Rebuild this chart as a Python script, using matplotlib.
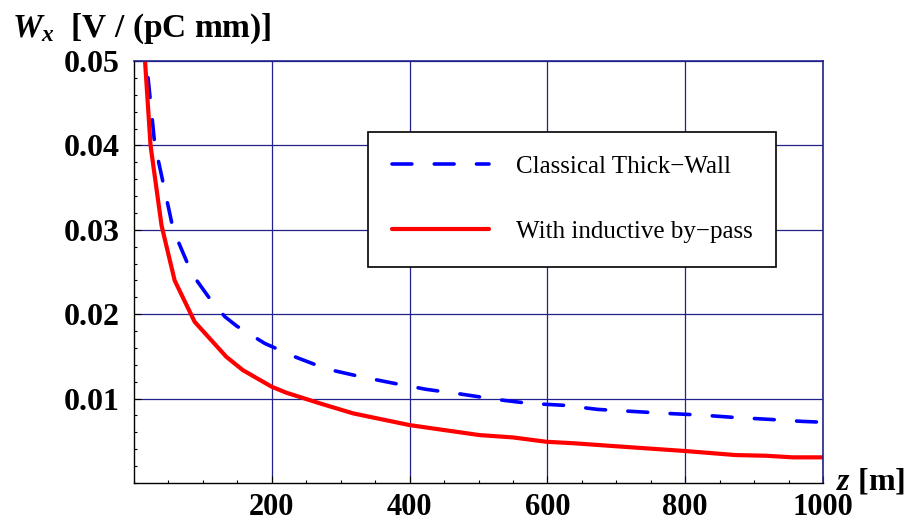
import matplotlib
matplotlib.use("Agg")
import matplotlib.pyplot as plt
from matplotlib.ticker import FixedLocator, MultipleLocator

plt.rcParams['font.family'] = ['Liberation Serif', 'DejaVu Serif']
plt.rcParams['mathtext.fontset'] = 'custom'
plt.rcParams['mathtext.rm'] = 'Liberation Serif:bold'
plt.rcParams['mathtext.it'] = 'Liberation Serif:italic:bold'

# data
z_classic = [14, 18, 30, 57, 84, 113, 132, 149, 190, 236, 280, 330, 378, 424,
             475, 526, 574, 625, 673, 724, 772, 823, 871, 922, 970, 1000]
w_classic = [0.053, 0.050, 0.0402, 0.0300, 0.0248, 0.0215, 0.0197, 0.0186,
             0.01653, 0.01487, 0.0135, 0.01258, 0.0118, 0.0111, 0.01053,
             0.0099, 0.00943, 0.0092, 0.00872, 0.00848, 0.00825, 0.00805,
             0.00777, 0.00754, 0.0073, 0.0072]

z_bypass = [13, 16, 24, 40, 59, 88, 134, 158, 200, 221, 270, 318, 400, 501,
            550, 598, 640, 700, 800, 873, 917, 956, 1000]
w_bypass = [0.054, 0.050, 0.040, 0.0305, 0.0240, 0.0191, 0.01495, 0.01337,
            0.0114, 0.0107, 0.00943, 0.00825, 0.00686, 0.00568, 0.0054,
            0.00489, 0.0047, 0.00435, 0.00379, 0.00331, 0.00323, 0.00304,
            0.00304]

labels = ['Classical Thick\u2212Wall', 'With inductive by\u2212pass']

x_ticks = [200, 400, 600, 800, 1000]
x_ticklabels = ['200', '400', '600', '800', '1000']
y_ticks = [0.01, 0.02, 0.03, 0.04, 0.05]
y_ticklabels = ['0.01', '0.02', '0.03', '0.04', '0.05']

navy = '#22228c'

fig = plt.figure(figsize=(9.11, 5.27), dpi=100)
ax = fig.add_axes([134 / 911, 1 - 483 / 527, (823 - 134) / 911, (483 - 61) / 527])

ax.plot(z_classic, w_classic, color='#0000ff', lw=2.6, dashes=(5.5, 6.2),
        dash_capstyle='round', label=labels[0])
ax.plot(z_bypass, w_bypass, color='#ff0000', lw=3.0, solid_capstyle='round',
        label=labels[1])

ax.set_xlim(0, 1000)
ax.set_ylim(0, 0.05)

ax.xaxis.set_major_locator(FixedLocator(x_ticks))
ax.set_xticklabels(x_ticklabels)
ax.yaxis.set_major_locator(FixedLocator(y_ticks))
ax.set_yticklabels(y_ticklabels)
ax.xaxis.set_minor_locator(MultipleLocator(50))
ax.yaxis.set_minor_locator(MultipleLocator(0.002))

ax.tick_params(which='both', direction='in', top=False, right=False,
               labelsize=23, width=0.8, color='black')
ax.tick_params(which='major', length=5)
ax.tick_params(which='minor', length=2.5)
ax.tick_params(axis='x', pad=7.5, labelsize=22)
ax.tick_params(axis='y', pad=10)
for lab in ax.get_xticklabels() + ax.get_yticklabels():
    lab.set_fontweight('bold')

ax.grid(True, which='major', color=navy, lw=0.9)
ax.set_axisbelow(True)
for side in ['top', 'right']:
    ax.spines[side].set_color(navy)
    ax.spines[side].set_linewidth(1.2)
for side in ['left', 'bottom']:
    ax.spines[side].set_color('black')
    ax.spines[side].set_linewidth(1.0)

leg = ax.legend(loc='upper left', bbox_to_anchor=(368 / 911, 1 - 131.7 / 527),
                bbox_transform=fig.transFigure, borderaxespad=0,
                fontsize=18, frameon=True, fancybox=False, edgecolor='black',
                framealpha=1, handlelength=3.9, handletextpad=1.05,
                labelspacing=1.7, borderpad=0.95)
leg.get_frame().set_linewidth(1.2)

fig.text(12 / 911, 1 - 37 / 527, r'$W_x$  [V / (pC mm)]', fontsize=24,
         fontweight='bold', va='baseline', ha='left')
fig.text(905 / 911, 1 - 489 / 527, r'$z$ [m]', fontsize=23,
         fontweight='bold', va='baseline', ha='right')

fig.savefig('out.png', dpi=100)
